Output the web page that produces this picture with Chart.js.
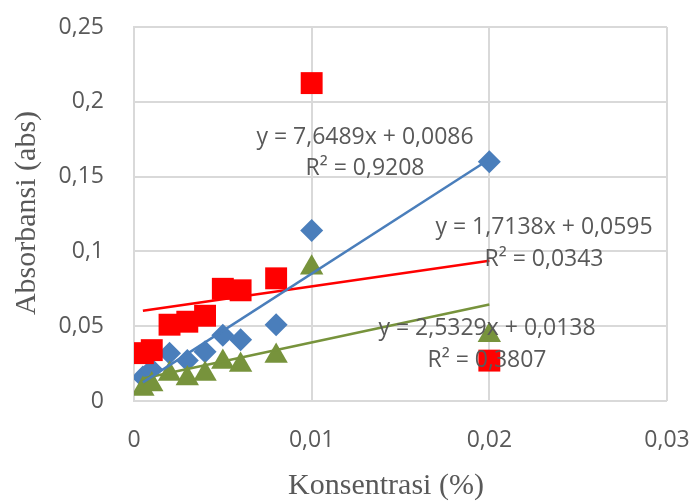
<!DOCTYPE html>
<html>
<head>
<meta charset="utf-8">
<script src="https://cdn.jsdelivr.net/npm/chart.js@4.4.1/dist/chart.umd.min.js"></script>
<style>
  html, body { margin: 0; padding: 0; background: #fff; }
  #wrap { width: 696px; height: 503px; position: relative; }
</style>
</head>
<body>
<div id="wrap"><canvas id="chart"></canvas></div>
<script>
// data
const xBlue = [0.0005, 0.001, 0.002, 0.003, 0.004, 0.005, 0.006, 0.008, 0.01, 0.02];
const yBlue = [0.016, 0.021, 0.032, 0.027, 0.033, 0.044, 0.041, 0.051, 0.114, 0.160];

const xRed = [0.0005, 0.001, 0.002, 0.003, 0.004, 0.005, 0.006, 0.008, 0.01, 0.02];
const yRed = [0.032, 0.034, 0.051, 0.053, 0.057, 0.075, 0.074, 0.082, 0.2125, 0.027];

const xGreen = [0.0005, 0.001, 0.002, 0.003, 0.004, 0.005, 0.006, 0.008, 0.01, 0.02];
const yGreen = [0.008, 0.011, 0.018, 0.015, 0.018, 0.026, 0.024, 0.030, 0.089, 0.044];

// linear trendlines (from the printed equations)
const slopes = [7.6489, 1.7138, 2.5329];
const intercepts = [0.0086, 0.0595, 0.0138];
const eqLabels = ["y = 7,6489x + 0,0086", "y = 1,7138x + 0,0595", "y = 2,5329x + 0,0138"];
const r2Labels = ["R² = 0,9208", "R² = 0,0343", "R² = 0,3807"];

const xTickLabels = ["0", "0,01", "0,02", "0,03"];
const yTickLabels = ["0", "0,05", "0,1", "0,15", "0,2", "0,25"];

const xTitle = "Konsentrasi (%)";
const yTitle = "Absorbansi (abs)";

const BLUE = "#4a7ebb";
const RED = "#ff0000";
const GREEN = "#77933c";
const TEXT = "#595959";

const pts = (xs, ys) => xs.map((x, i) => ({ x: x, y: ys[i] }));

function trend(i, xs) {
  const x0 = Math.min(...xs), x1 = Math.max(...xs);
  return [
    { x: x0, y: slopes[i] * x0 + intercepts[i] },
    { x: x1, y: slopes[i] * x1 + intercepts[i] },
  ];
}

// equation label placement (pixel centres)
const labelPos = [
  { x: 365, y: 137, y2: 168 },
  { x: 544, y: 227, y2: 259 },
  { x: 487, y: 328, y2: 360 },
];

const textPlugin = {
  id: "textPlugin",
  afterDatasetsDraw(chart) {
    const ctx = chart.ctx;
    ctx.save();
    ctx.fillStyle = TEXT;
    ctx.textAlign = "center";
    ctx.textBaseline = "middle";
    ctx.font = '23px "Open Sans"';
    labelPos.forEach((p, i) => {
      ctx.fillText(eqLabels[i], p.x, p.y);
      ctx.fillText(r2Labels[i], p.x, p.y2);
    });

    ctx.font = '30px "Liberation Serif"';
    ctx.fillText(xTitle, 386, 486);
    ctx.translate(27, 213);
    ctx.rotate(-Math.PI / 2);
    ctx.fillText(yTitle, 0, 0);
    ctx.restore();
  },
};

const ctx = document.getElementById("chart").getContext("2d");
new Chart(ctx, {
  type: "scatter",
  data: {
    datasets: [
      { type: "line", data: trend(0, xBlue), borderColor: BLUE, borderWidth: 2.5, pointRadius: 0, fill: false, order: 1 },
      { type: "line", data: trend(1, xRed), borderColor: RED, borderWidth: 2.5, pointRadius: 0, fill: false, order: 2 },
      { type: "line", data: trend(2, xGreen), borderColor: GREEN, borderWidth: 2.5, pointRadius: 0, fill: false, order: 3 },
      { data: pts(xGreen, yGreen), pointStyle: "triangle", pointRadius: 13.5, backgroundColor: GREEN, borderColor: GREEN, borderWidth: 0, order: 4 },
      { data: pts(xRed, yRed), pointStyle: "rect", pointRadius: 15.5, backgroundColor: RED, borderColor: RED, borderWidth: 0, order: 5 },
      { data: pts(xBlue, yBlue), pointStyle: "rectRot", pointRadius: 11.5, backgroundColor: BLUE, borderColor: BLUE, borderWidth: 0, order: 6 },
    ],
  },
  options: {
    responsive: true,
    maintainAspectRatio: false,
    animation: false,
    events: [],
    layout: { padding: { top: 27, right: 29, left: 0, bottom: 0 } },
    plugins: { legend: { display: false }, tooltip: { enabled: false } },
    scales: {
      x: {
        type: "linear",
        min: 0,
        max: 0.03,
        border: { display: false },
        grid: { color: "#d9d9d9", lineWidth: 2, drawTicks: false },
        afterFit: (s) => { s.height = 102; s.paddingLeft = 0; s.paddingRight = 0; },
        afterBuildTicks: (s) => { s.ticks = xTickLabels.map((_, i) => ({ value: i * 0.01 })); },
        ticks: {
          padding: 26,
          color: TEXT,
          font: { family: "Open Sans", size: 23 },
          callback: (v, i) => xTickLabels[i],
        },
      },
      y: {
        type: "linear",
        min: 0,
        max: 0.25,
        border: { display: true, color: "#d9d9d9", width: 2 },
        grid: { color: "#d9d9d9", lineWidth: 2, drawTicks: false },
        afterFit: (s) => { s.width = 134; s.paddingTop = 0; s.paddingBottom = 0; },
        afterBuildTicks: (s) => { s.ticks = yTickLabels.map((_, i) => ({ value: i * 0.05 })); },
        ticks: {
          padding: 30,
          color: TEXT,
          font: { family: "Open Sans", size: 23 },
          callback: (v, i) => yTickLabels[i],
        },
      },
    },
  },
  plugins: [textPlugin],
});
</script>
</body>
</html>
